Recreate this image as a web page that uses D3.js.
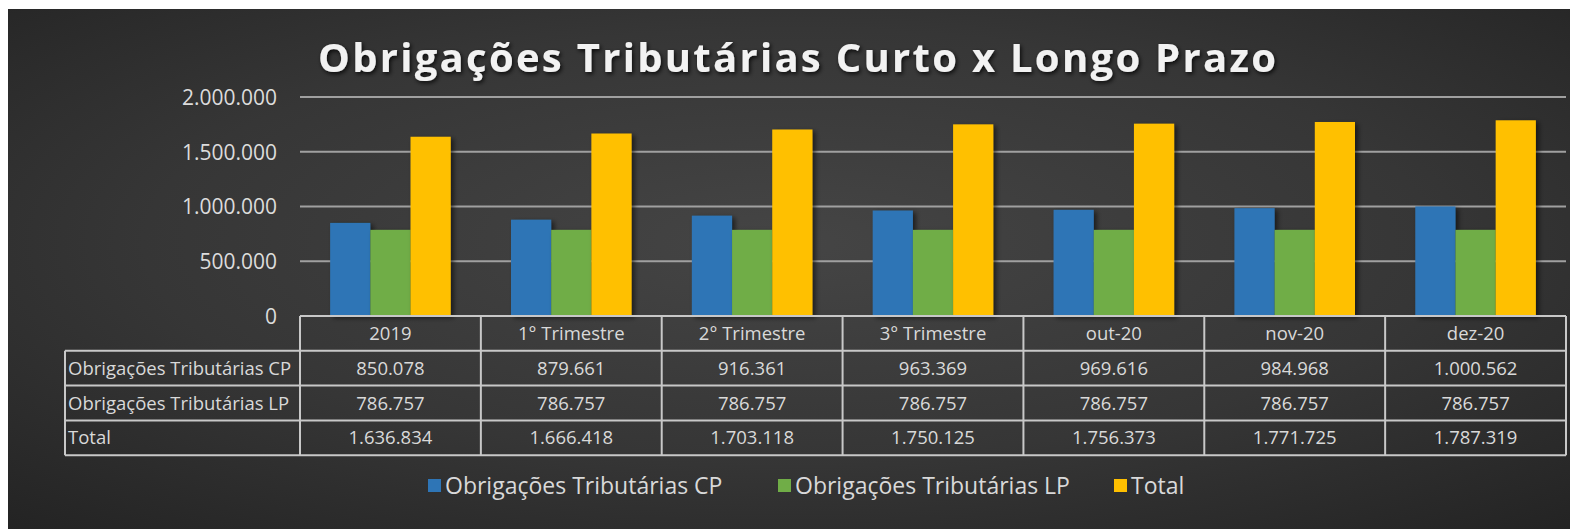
<!DOCTYPE html>
<html>
<head>
<meta charset="utf-8">
<script src="https://cdn.jsdelivr.net/npm/d3@7"></script>
<style>
  html, body { margin: 0; padding: 0; background: #ffffff; }
  svg { display: block; }
  text { font-family: "Open Sans", "Noto Sans", sans-serif; }
</style>
</head>
<body>
<svg id="chart" width="1570" height="529"></svg>
<script>
// ---- data ----
const categories = ["2019", "1° Trimestre", "2° Trimestre", "3° Trimestre", "out-20", "nov-20", "dez-20"];
const seriesNames = ["Obrigações Tributárias CP", "Obrigações Tributárias LP", "Total"];
const valuesCP = [850078, 879661, 916361, 963369, 969616, 984968, 1000562];
const valuesLP = [786757, 786757, 786757, 786757, 786757, 786757, 786757];
const valuesTotal = [1636834, 1666418, 1703118, 1750125, 1756373, 1771725, 1787319];
const yTicks = [0, 500000, 1000000, 1500000, 2000000];
const titleText = "Obrigações Tributárias Curto x Longo Prazo";
const colors = ["#2e75b6", "#70ad47", "#ffc000"];

const seriesValues = [valuesCP, valuesLP, valuesTotal];

const svg = d3.select("#chart");
const W = 1570, H = 529;

// ---- background ----
const defs = svg.append("defs");
const grad = defs.append("radialGradient").attr("id", "bg")
  .attr("cx", "50%").attr("cy", "45%").attr("r", "75%");
grad.append("stop").attr("offset", "0%").attr("stop-color", "#454545");
grad.append("stop").attr("offset", "55%").attr("stop-color", "#363636");
grad.append("stop").attr("offset", "100%").attr("stop-color", "#232323");

const shadow = defs.append("filter").attr("id", "barShadow")
  .attr("x", "-20%").attr("y", "-10%").attr("width", "160%").attr("height", "130%");
shadow.append("feDropShadow").attr("dx", 3).attr("dy", 2).attr("stdDeviation", 2.5)
  .attr("flood-color", "#000").attr("flood-opacity", 0.55);

const tshadow = defs.append("filter").attr("id", "titleShadow")
  .attr("x", "-10%").attr("y", "-40%").attr("width", "120%").attr("height", "180%");
tshadow.append("feDropShadow").attr("dx", 1.5).attr("dy", 2).attr("stdDeviation", 2)
  .attr("flood-color", "#000").attr("flood-opacity", 0.8);

svg.append("rect").attr("x", 8).attr("y", 9).attr("width", W - 8).attr("height", H - 9)
  .attr("fill", "url(#bg)");

// ---- scales ----
const plotLeft = 300, plotRight = 1566, plotTop = 97, plotBottom = 316;
const x = d3.scaleBand().domain(categories).range([plotLeft, plotRight]).padding(0);
const bw = x.bandwidth();
const xs = d3.scaleBand().domain(seriesNames).range([bw / 6, bw * 5 / 6]).padding(0);
const y = d3.scaleLinear().domain([0, 2000000]).range([plotBottom, plotTop]);

const fmt = d3.formatLocale({ decimal: ",", thousands: ".", grouping: [3], currency: ["R$", ""] }).format(",d");

// ---- title ----
svg.append("text")
  .attr("x", 797).attr("y", 72)
  .attr("text-anchor", "middle")
  .attr("font-size", 40).attr("font-weight", 700)
  .attr("fill", "#f2f2f2")
  .attr("textLength", 958).attr("lengthAdjust", "spacing")
  .attr("filter", "url(#titleShadow)")
  .text(titleText);

// ---- gridlines & y axis ----
const yAxis = d3.axisLeft(y).tickValues(yTicks).tickSize(0).tickPadding(0).tickFormat(d => fmt(d));
const gy = svg.append("g").attr("transform", `translate(277,0)`).call(yAxis);
gy.select(".domain").remove();
gy.selectAll("text").attr("font-size", 21).attr("fill", "#dcdcdc")
  .attr("font-family", "'Open Sans', sans-serif").attr("dy", "0.35em");

svg.append("g").selectAll("line").data(yTicks.filter(d => d > 0)).join("line")
  .attr("x1", plotLeft).attr("x2", plotRight)
  .attr("y1", d => y(d)).attr("y2", d => y(d))
  .attr("stroke", "#a0a0a0").attr("stroke-width", 2);

// ---- bars ----
const gBars = svg.append("g");
seriesNames.forEach((s, si) => {
  gBars.append("g").attr("filter", "url(#barShadow)")
    .selectAll("rect").data(categories).join("rect")
    .attr("x", (c) => x(c) + xs(s))
    .attr("width", xs.bandwidth())
    .attr("y", (c, i) => y(seriesValues[si][i]))
    .attr("height", (c, i) => y(0) - y(seriesValues[si][i]))
    .attr("fill", colors[si]);
});

// ---- data table ----
const tableLeft = 65;
const rowH = 34.8;
const rowTops = [316, 316 + rowH, 316 + 2 * rowH, 316 + 3 * rowH];
const tableBottom = 316 + 4 * rowH;
const gT = svg.append("g");
const lineCol = "#c8c8c8";

gT.append("line").attr("x1", plotLeft).attr("x2", plotRight).attr("y1", rowTops[0]).attr("y2", rowTops[0])
  .attr("stroke", lineCol).attr("stroke-width", 2);
[rowTops[1], rowTops[2], rowTops[3], tableBottom].forEach(yy => {
  gT.append("line").attr("x1", tableLeft).attr("x2", plotRight).attr("y1", yy).attr("y2", yy)
    .attr("stroke", lineCol).attr("stroke-width", 2);
});
gT.append("line").attr("x1", tableLeft).attr("x2", tableLeft).attr("y1", rowTops[1]).attr("y2", tableBottom)
  .attr("stroke", lineCol).attr("stroke-width", 2);
categories.forEach(c => {
  gT.append("line").attr("x1", x(c)).attr("x2", x(c)).attr("y1", rowTops[0]).attr("y2", tableBottom)
    .attr("stroke", lineCol).attr("stroke-width", 2);
});
gT.append("line").attr("x1", plotRight).attr("x2", plotRight).attr("y1", rowTops[0]).attr("y2", tableBottom)
  .attr("stroke", lineCol).attr("stroke-width", 2);

const tFont = 18.5, tFill = "#d9d9d9";
gT.selectAll("text.hdr").data(categories).join("text").attr("class", "hdr")
  .attr("x", c => x(c) + bw / 2).attr("y", rowTops[0] + rowH / 2)
  .attr("dy", "0.36em").attr("text-anchor", "middle")
  .attr("font-size", tFont).attr("fill", tFill).text(c => c);
seriesNames.forEach((s, si) => {
  const cy = rowTops[si + 1] + rowH / 2;
  gT.append("text").attr("x", tableLeft + 3).attr("y", cy).attr("dy", "0.36em")
    .attr("font-size", tFont).attr("fill", tFill).text(s);
  gT.append("g").selectAll("text").data(categories).join("text")
    .attr("x", c => x(c) + bw / 2).attr("y", cy).attr("dy", "0.36em")
    .attr("text-anchor", "middle").attr("font-size", tFont).attr("fill", tFill)
    .text((c, i) => fmt(seriesValues[si][i]));
});

// ---- legend ----
const legendItems = [
  { name: seriesNames[0], color: colors[0], x: 428 },
  { name: seriesNames[1], color: colors[1], x: 778 },
  { name: seriesNames[2], color: colors[2], x: 1114 }
];
const gL = svg.append("g");
legendItems.forEach(it => {
  gL.append("rect").attr("x", it.x).attr("y", 479).attr("width", 13).attr("height", 13)
    .attr("fill", it.color);
  gL.append("text").attr("x", it.x + 17).attr("y", 486).attr("dy", "0.36em")
    .attr("font-size", 23).attr("fill", "#d9d9d9").text(it.name);
});
</script>
</body>
</html>
